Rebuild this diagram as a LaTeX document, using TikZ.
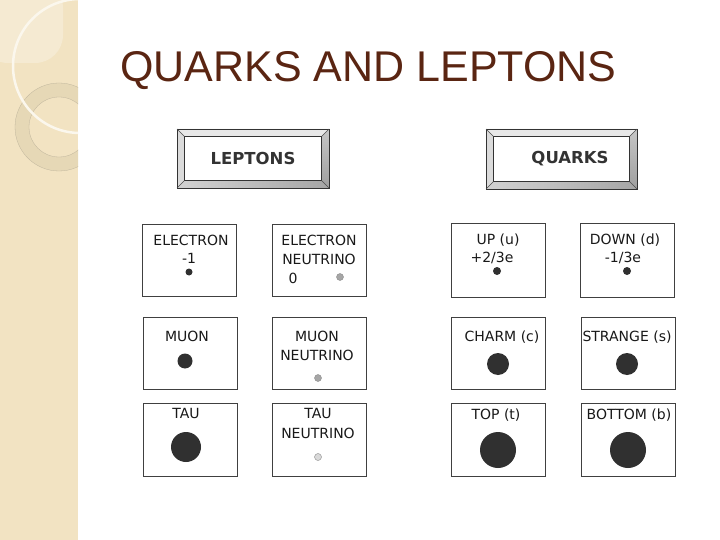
\documentclass[tikz,border=0pt]{standalone}
\usepackage{fontspec}
\newfontfamily\tfont{Liberation Sans}
\newfontfamily\cfont{DejaVu Sans}
\definecolor{beige}{HTML}{F2E3C2}
\definecolor{beigelight}{HTML}{F5EAD2}
\definecolor{ringc}{HTML}{E6D8B6}
\definecolor{titlec}{HTML}{5A2512}
\definecolor{dotc}{HTML}{303030}
\newcommand{\bevelbox}[5]{%
  \fill[gray!18] (#1,#2) -- (#3,#2) -- (#3-#5,#2+#5) -- (#1+#5,#2+#5) -- cycle;
  \fill[gray!28] (#1,#2) -- (#1+#5,#2+#5) -- (#1+#5,#4-#5) -- (#1,#4) -- cycle;
  \shade[left color=gray!35, right color=gray!70] (#1,#4) -- (#3,#4) -- (#3-#5,#4-#5) -- (#1+#5,#4-#5) -- cycle;
  \shade[top color=gray!45, bottom color=gray!75] (#3,#2) -- (#3,#4) -- (#3-#5,#4-#5) -- (#3-#5,#2+#5) -- cycle;
  \draw[black!80, line width=0.8pt] (#1,#2) rectangle (#3,#4);
  \draw[black!80, line width=0.8pt] (#1+#5,#2+#5) rectangle (#3-#5,#4-#5);
  \draw[black!70, line width=0.4pt] (#1,#2) -- (#1+#5,#2+#5) (#3,#2) -- (#3-#5,#2+#5)
     (#1,#4) -- (#1+#5,#4-#5) (#3,#4) -- (#3-#5,#4-#5);
}
\tikzset{
  cell/.style={draw=black!75, line width=0.8pt, fill=white, inner sep=0pt,
     anchor=north west, minimum width=94pt, minimum height=72pt},
  lbl/.style={font=\cfont\fontsize{14}{16}\selectfont, text=black!90, inner sep=0pt},
  hdr/.style={font=\cfont\bfseries\fontsize{16.5}{18}\selectfont, text=black!80, inner sep=0pt},
  dotb/.style={circle, fill=dotc, draw=none, inner sep=0pt},
  dotg/.style={circle, fill=gray!70, draw=gray!90, line width=0.4pt, inner sep=0pt},
  dotl/.style={circle, fill=gray!30, draw=gray!80, line width=0.5pt, inner sep=0pt},
}
\begin{document}
\begin{tikzpicture}[x=1pt,y=-1pt]
\useasboundingbox (0,0) rectangle (720,540);
\fill[white] (0,0) rectangle (720,540);
% decorative left band
\fill[beige] (0,0) rectangle (78,540);
\begin{scope}
  \clip (0,0) rectangle (78,540);
  \fill[beigelight, rounded corners=28pt] (-20,-20) rectangle (63,63);
  \fill[ringc, even odd rule] (59,127) circle[radius=44] (59,127) circle[radius=30];
  \draw[ringc!80!black!90, line width=0.3pt] (59,127) circle[radius=44] (59,127) circle[radius=30];
  \draw[white!70!beige, line width=2.5pt] (80,66) circle[radius=67];
\end{scope}
% title
\node[font=\tfont\fontsize{43}{48}\selectfont, text=titlec, anchor=base west, inner sep=0pt] (title) at (120,82) {QUARKS AND LEPTONS};
% header boxes
\bevelbox{177}{129}{329}{188}{7.5}
\node[hdr] (lept) at (253,158) {LEPTONS};
\bevelbox{486}{129}{637}{189}{7.5}
\node[hdr] (quark) at (570,159) {QUARKS};
% leptons
\node[cell] (c11) at (142,224) {};
\node[lbl] (c11a) at (191,240) {ELECTRON};
\node[lbl] (c11b) at (189,258) {-1};
\node[dotb, minimum size=7pt] (c11d) at (189,272) {};

\node[cell] (c12) at (272,224) {};
\node[lbl] (c12a) at (319,240) {ELECTRON};
\node[lbl] (c12b) at (319,259) {NEUTRINO};
\node[lbl] (c12c) at (293,278) {0};
\node[dotg, minimum size=7pt] (c12d) at (340,277) {};

\node[cell] (c21) at (143,317) {};
\node[lbl] (c21a) at (187,336) {MUON};
\node[dotb, minimum size=15pt] (c21d) at (185,361) {};

\node[cell] (c22) at (272,317) {};
\node[lbl] (c22a) at (317,336) {MUON};
\node[lbl] (c22b) at (317,355) {NEUTRINO};
\node[dotg, minimum size=7pt] (c22d) at (318,378) {};

\node[cell, minimum height=73pt] (c31) at (143,403) {};
\node[lbl] (c31a) at (186,413) {TAU};
\node[dotb, minimum size=30pt] (c31d) at (186,447) {};

\node[cell, minimum height=73pt] (c32) at (272,403) {};
\node[lbl] (c32a) at (318,413) {TAU};
\node[lbl] (c32b) at (318,433) {NEUTRINO};
\node[dotl, minimum size=7pt] (c32d) at (318,457) {};
% quarks
\node[cell, minimum height=74pt] (c13) at (451,223) {};
\node[lbl] (c13a) at (498,240) {UP (u)};
\node[lbl] (c13b) at (492,258) {+2/3e};
\node[dotb, minimum size=8pt] (c13d) at (497,271) {};

\node[cell, minimum height=74pt] (c14) at (580,223) {};
\node[lbl] (c14a) at (625,240) {DOWN (d)};
\node[lbl] (c14b) at (623,258) {-1/3e};
\node[dotb, minimum size=8pt] (c14d) at (627,271) {};

\node[cell] (c23) at (451,317) {};
\node[lbl] (c23a) at (502,337) {CHARM (c)};
\node[dotb, minimum size=22pt] (c23d) at (498,364) {};

\node[cell] (c24) at (581,317) {};
\node[lbl] (c24a) at (627,337) {STRANGE (s)};
\node[dotb, minimum size=22pt] (c24d) at (627,364) {};

\node[cell, minimum height=73pt] (c33) at (451,403) {};
\node[lbl] (c33a) at (496,415) {TOP (t)};
\node[dotb, minimum size=36pt] (c33d) at (498,450) {};

\node[cell, minimum height=73pt] (c34) at (581,403) {};
\node[lbl] (c34a) at (629,415) {BOTTOM (b)};
\node[dotb, minimum size=36pt] (c34d) at (628,450) {};
\end{tikzpicture}
\end{document}
